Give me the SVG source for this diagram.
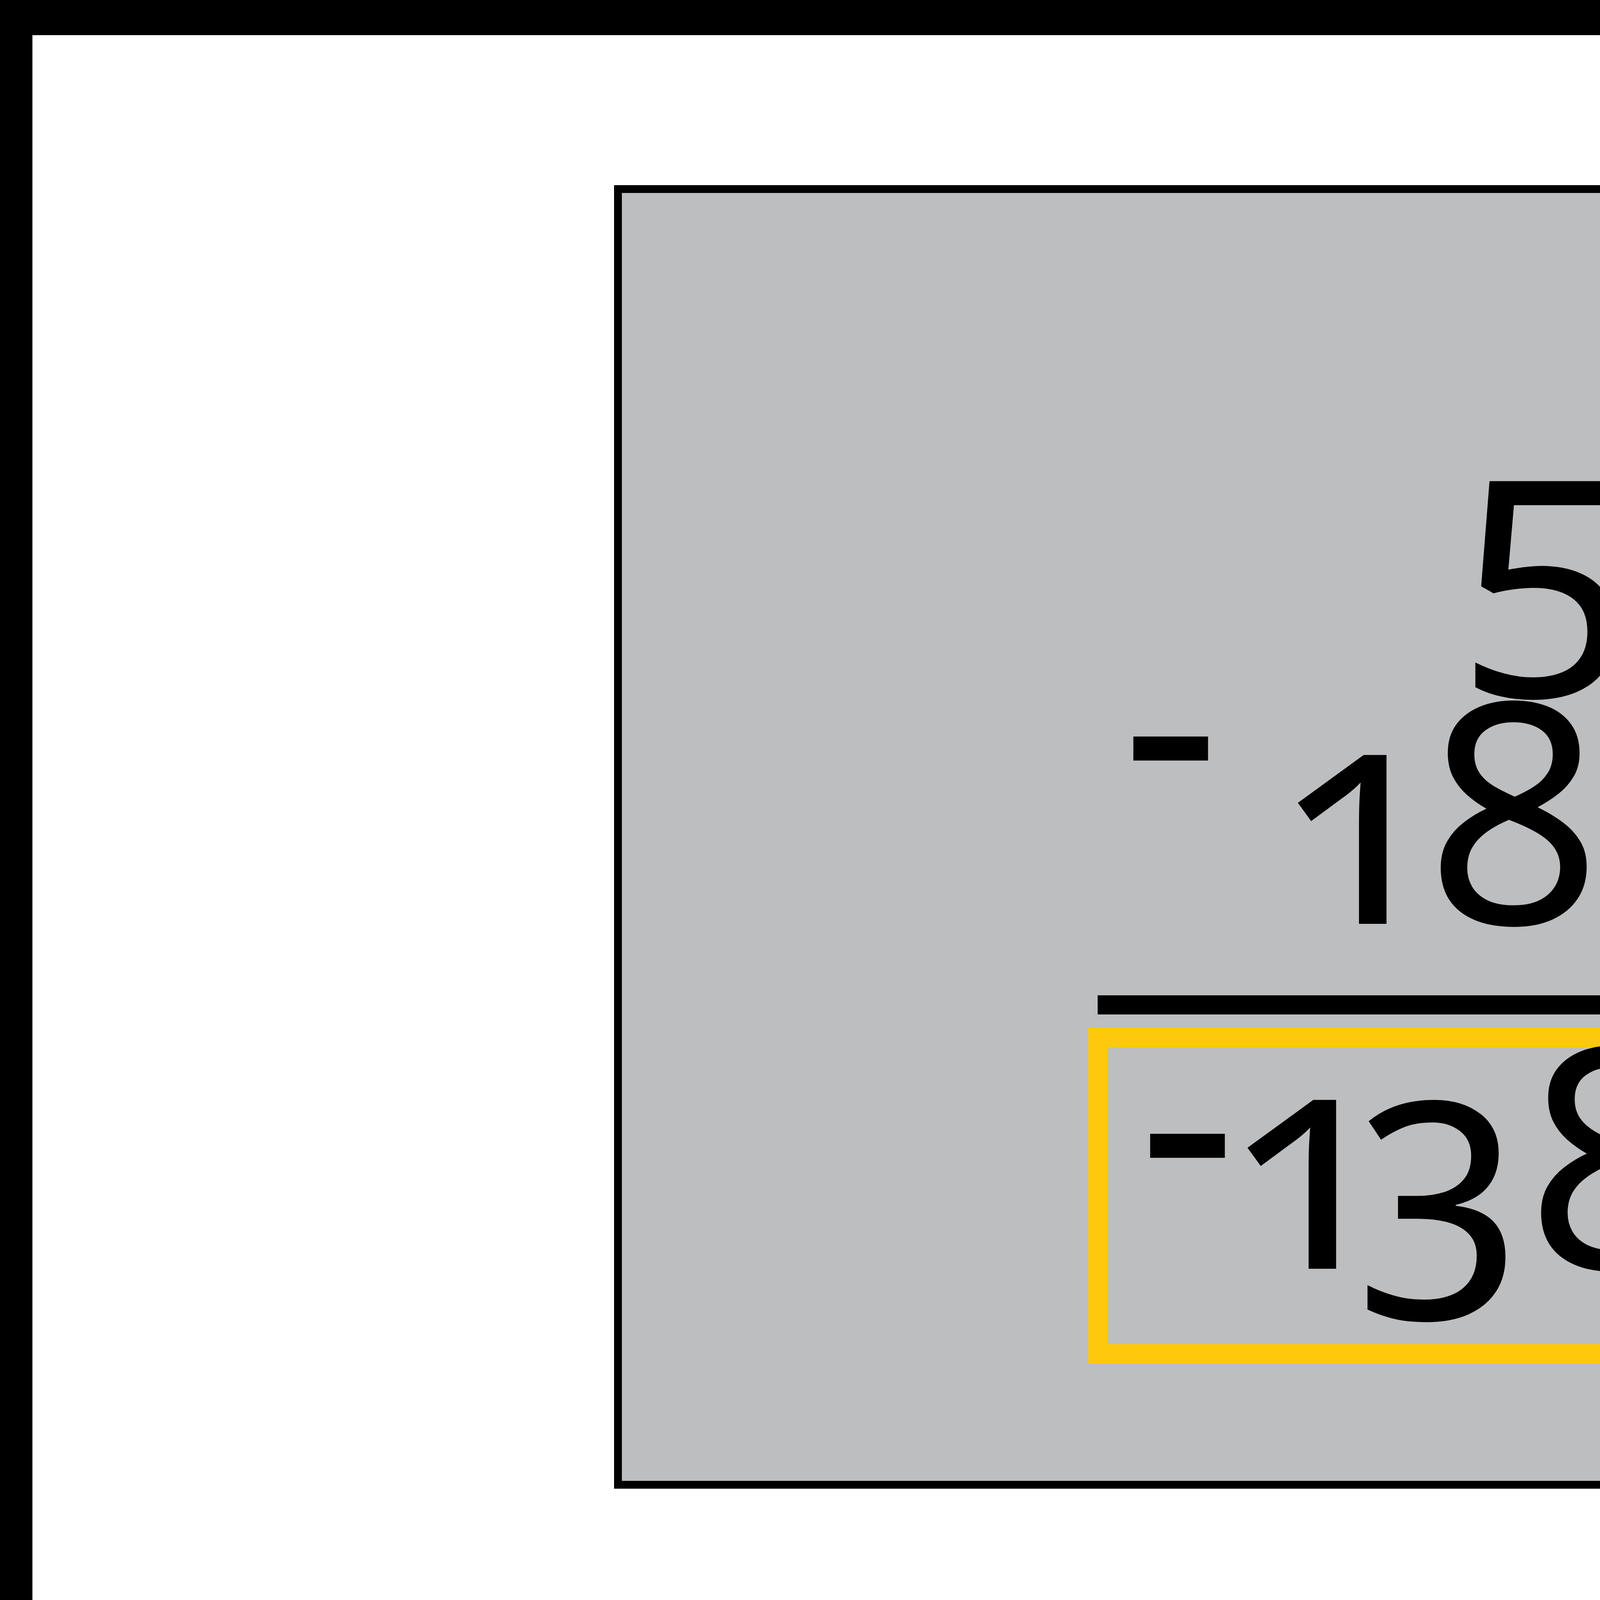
<svg xmlns="http://www.w3.org/2000/svg" width="7340" height="4272" viewBox="0 0 7340 4272">
  <style>
    .num { font-family: "Noto Sans", "Open Sans", "DejaVu Sans", sans-serif; font-size: 790px; fill: #000000; font-feature-settings: "onum" 1; font-variant-numeric: oldstyle-nums; text-anchor: middle; }
  </style>
  <g id="frame">
    <rect x="0" y="0" width="7340" height="4272" fill="#000000"/>
    <rect x="83" y="90" width="7174" height="4084" fill="#FFFFFF"/>
  </g>
  <g id="panel">
    <rect x="1582" y="484" width="4277" height="3317" fill="#BDBEC0" stroke="#000000" stroke-width="20"/>
  </g>
  <g id="minuend">
    <text class="num" x="3955 4395" y="1655">50</text>
  </g>
  <g id="minus-sign">
    <text class="num" x="2997" y="2128">-</text>
  </g>
  <g id="subtrahend">
    <text class="num" x="3481 3875 4361" y="2365">188</text>
  </g>
  <g id="rule">
    <rect x="2810" y="2548" width="1747" height="49" fill="#000000"/>
  </g>
  <g id="result">
    <rect x="2810" y="2656" width="1748" height="810" fill="none" stroke="#FFC90B" stroke-width="50"/>
    <text class="num" x="3040 3352 3686 4132" y="3145 3248 3248 3248">-138</text>
  </g>
</svg>
